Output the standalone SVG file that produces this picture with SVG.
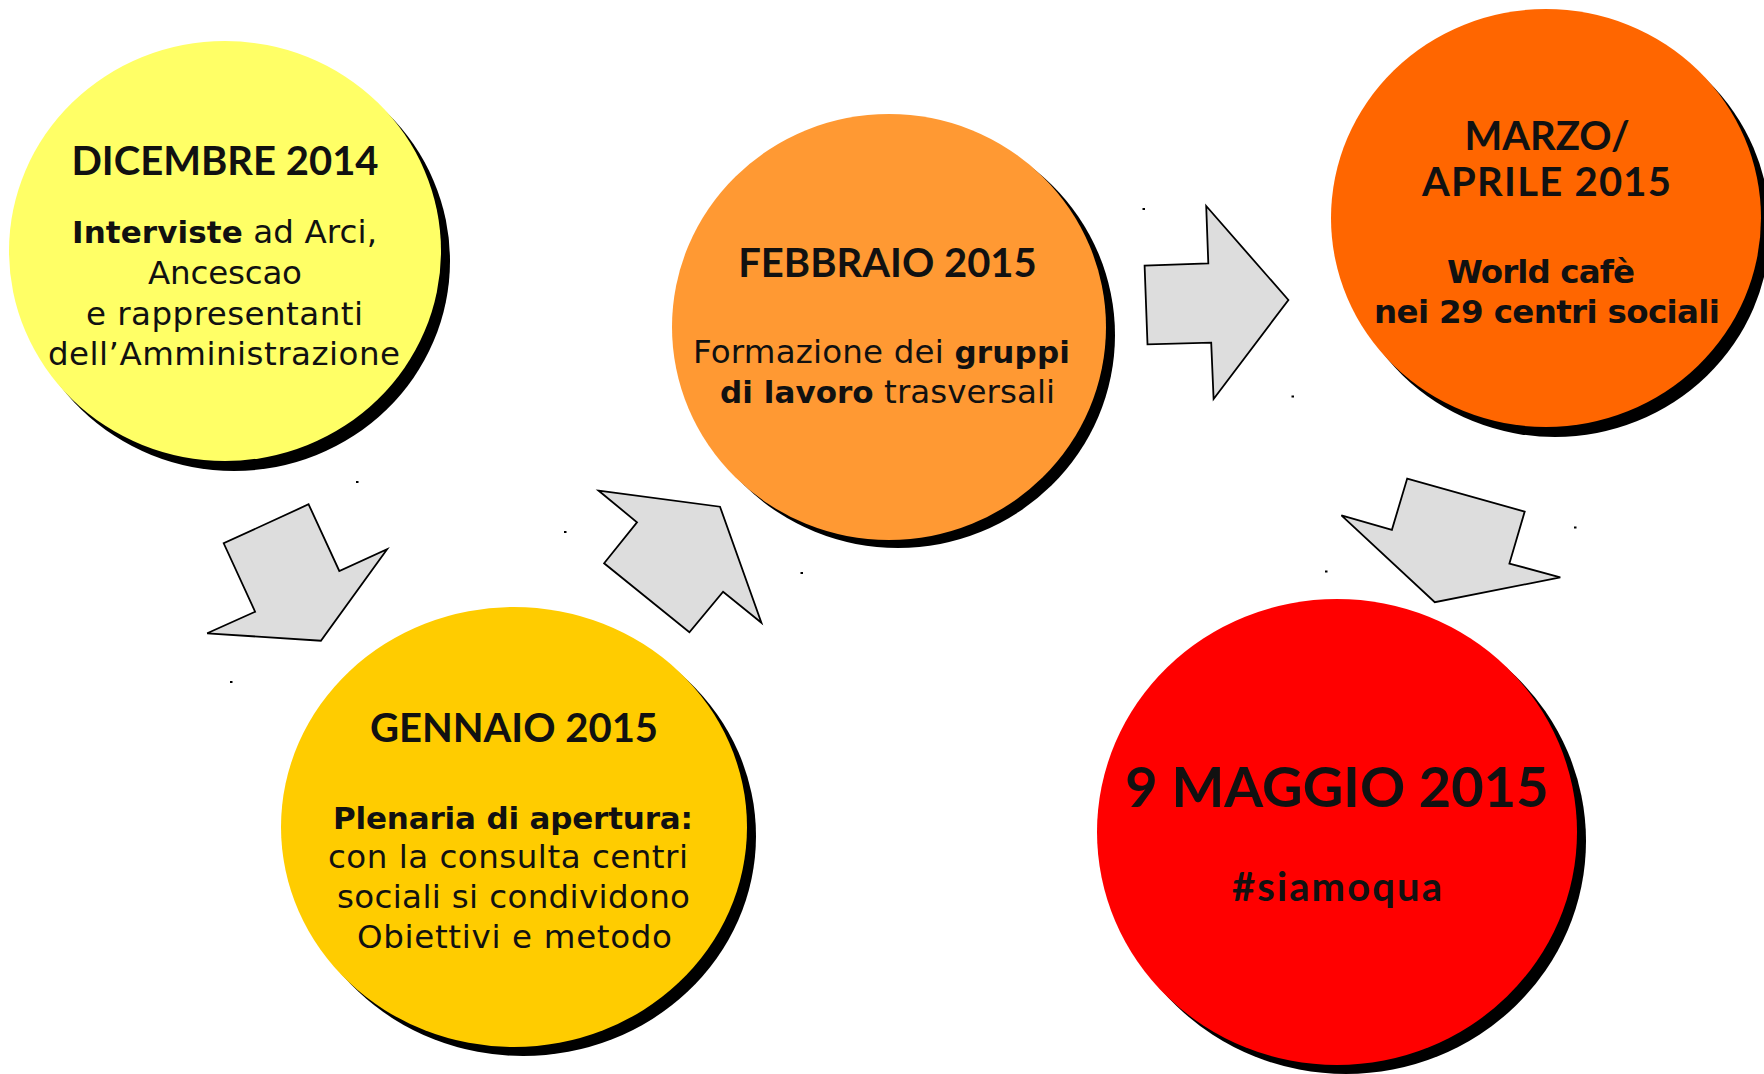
<svg xmlns="http://www.w3.org/2000/svg" width="1764" height="1074" viewBox="0 0 1764 1074">
<style>
.shadow{fill:#000}
.t{fill:#111}
.h{font-family:Lato,"Liberation Sans",sans-serif;font-size:40px;font-weight:bold}
.b{font-family:"DejaVu Sans","Liberation Sans",sans-serif;font-size:32.5px}
.bb{font-weight:bold;font-size:31px}
.m{font-family:"DejaVu Sans","Liberation Sans",sans-serif;font-size:32.5px;font-weight:bold}
.arrow{fill:#DDDDDD;stroke:#000;stroke-width:1.8;stroke-linejoin:miter}
.dot{fill:#000}
</style>
<rect width="1764" height="1074" fill="#fff"/>
<g id="connectors">
<polygon class="arrow" points="308.6,504.3 339.3,571 387.1,549.3 320.9,640.7 207.2,633.3 255.1,611.7 223.7,543.3"/>
<polygon class="arrow" points="598.7,490.7 720,506.7 761.4,622.7 723.1,591.7 689.4,632.3 604.1,563.3 637,522.3"/>
<polygon class="arrow" points="1206.2,206 1288.4,300 1213.6,399 1211.2,342.7 1147.5,344.3 1144.6,265.7 1208.3,263.3"/>
<polygon class="arrow" points="1407.2,478.6 1524.7,511.6 1509.4,563.5 1560.3,577.4 1434.8,602.2 1341.4,515.4 1391.9,529.8"/>
<rect class="dot" x="356" y="481" width="2.5" height="2"/>
<rect class="dot" x="230" y="681" width="2.5" height="2"/>
<rect class="dot" x="564" y="531" width="2.5" height="2"/>
<rect class="dot" x="800.5" y="572" width="2.5" height="2"/>
<rect class="dot" x="1142.5" y="208" width="2.5" height="2"/>
<rect class="dot" x="1291.5" y="395.5" width="2.5" height="2"/>
<rect class="dot" x="1325" y="570.5" width="2.5" height="2"/>
<rect class="dot" x="1574" y="526.5" width="2.5" height="2"/>
</g>
<g id="node-dicembre">
<ellipse class="shadow" cx="234" cy="261" rx="216" ry="210"/>
<ellipse cx="225" cy="251" rx="216" ry="210" fill="#FFFF66"/>
<text class="t h" x="225" y="175" text-anchor="middle">DICEMBRE 2014</text>
<text class="t b" x="72" y="243" textLength="305" lengthAdjust="spacing"><tspan class="bb">Interviste</tspan> ad Arci,</text>
<text class="t b" x="148" y="284" textLength="154" lengthAdjust="spacing">Ancescao</text>
<text class="t b" x="86" y="325" textLength="277" lengthAdjust="spacing">e rappresentanti</text>
<text class="t b" x="48" y="365" textLength="352" lengthAdjust="spacing">dell’Amministrazione</text>
</g>
<g id="node-gennaio">
<ellipse class="shadow" cx="523" cy="836" rx="233" ry="220"/>
<ellipse cx="514" cy="827" rx="233" ry="220" fill="#FFCC00"/>
<text class="t h" x="514" y="742" text-anchor="middle">GENNAIO 2015</text>
<text class="t b bb" x="333" y="829" textLength="360" lengthAdjust="spacing">Plenaria di apertura:</text>
<text class="t b" x="328" y="868" textLength="360" lengthAdjust="spacing">con la consulta centri</text>
<text class="t b" x="337" y="908" textLength="353" lengthAdjust="spacing">sociali si condividono</text>
<text class="t b" x="357" y="948" textLength="315" lengthAdjust="spacing">Obiettivi e metodo</text>
</g>
<g id="node-febbraio">
<ellipse class="shadow" cx="898" cy="335" rx="217" ry="213"/>
<ellipse cx="889" cy="327" rx="217" ry="213" fill="#FF9933"/>
<text class="t h" x="887.5" y="277" text-anchor="middle">FEBBRAIO 2015</text>
<text class="t b" x="693" y="363" textLength="377" lengthAdjust="spacing">Formazione dei <tspan class="bb">gruppi</tspan></text>
<text class="t b" x="720" y="403" textLength="335" lengthAdjust="spacing"><tspan class="bb">di lavoro</tspan> trasversali</text>
</g>
<g id="node-marzo">
<ellipse class="shadow" cx="1555" cy="228" rx="215" ry="209"/>
<ellipse cx="1546" cy="218" rx="215" ry="209" fill="#FF6600"/>
<text class="t h" x="1547" y="150" text-anchor="middle">MARZO/</text>
<text class="t h" x="1422" y="196" textLength="249" lengthAdjust="spacing">APRILE 2015</text>
<text class="t m" x="1447" y="283" textLength="188" lengthAdjust="spacing">World cafè</text>
<text class="t m" x="1374" y="323" textLength="346" lengthAdjust="spacing">nei 29 centri sociali</text>
</g>
<g id="node-maggio">
<ellipse class="shadow" cx="1346" cy="841" rx="240" ry="233"/>
<ellipse cx="1337" cy="832" rx="240" ry="233" fill="#FF0000"/>
<text class="t h" x="1337" y="807" text-anchor="middle" style="font-size:56px">9 MAGGIO 2015</text>
<text class="t h" x="1232" y="901" textLength="210" lengthAdjust="spacing">#siamoqua</text>
</g>
</svg>
